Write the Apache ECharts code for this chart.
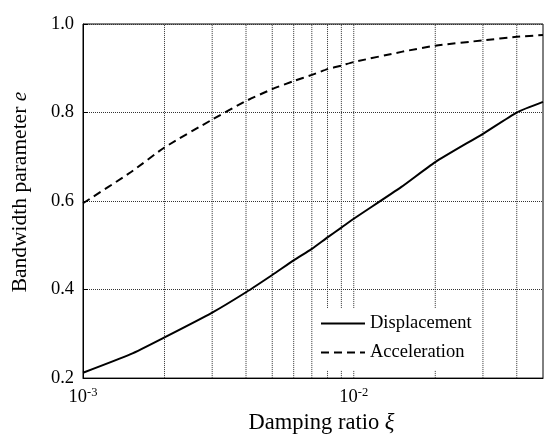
<!DOCTYPE html>
<html>
<head>
<meta charset="utf-8">
<script src="https://cdn.jsdelivr.net/npm/echarts@6/dist/echarts.min.js"></script>
<style>
  html, body { margin: 0; padding: 0; background: #fff; }
  #chart { width: 546px; height: 440px; }
</style>
</head>
<body>
<div id="chart"></div>
<script>
// Damping ratio values (log scale)
const dampingRatio = [0.001, 0.0015, 0.002, 0.003, 0.004, 0.005, 0.006, 0.007, 0.008, 0.009, 0.01, 0.015, 0.02, 0.03, 0.04, 0.05];
// Bandwidth parameter e of the displacement response
const displacement = [0.212, 0.254, 0.292, 0.348, 0.394, 0.433, 0.466, 0.492, 0.518, 0.540, 0.560, 0.632, 0.688, 0.752, 0.800, 0.824];
// Bandwidth parameter e of the acceleration response
const acceleration = [0.595, 0.665, 0.721, 0.784, 0.826, 0.853, 0.871, 0.885, 0.898, 0.906, 0.914, 0.937, 0.951, 0.963, 0.971, 0.975];
// Vertical grid lines at the log-scale subdivisions
const logGrid = [0.002, 0.003, 0.004, 0.005, 0.006, 0.007, 0.008, 0.009, 0.01, 0.02, 0.03, 0.04];
const seriesNames = ['Displacement', 'Acceleration'];

const FONT = "'Liberation Serif', 'Times New Roman', serif";
const GRID_COLOR = '#333';
const Y_MIN = 0.2, Y_MAX = 1.0;
const pairs = (xs, ys) => xs.map((x, i) => [x, ys[i]]);

const chart = echarts.init(document.getElementById('chart'));
chart.setOption({
  animation: false,
  backgroundColor: '#fff',
  textStyle: { fontFamily: FONT, color: '#000' },
  grid: {
    left: 83, right: 2, top: 24, bottom: 56,
    show: true, borderColor: '#000', borderWidth: 1
  },
  legend: {
    orient: 'vertical',
    left: 314, top: 308,
    padding: [6, 8, 8, 6],
    backgroundColor: '#fff',
    itemWidth: 44, itemHeight: 14, itemGap: 10,
    itemStyle: { color: 'transparent', borderColor: 'transparent', borderWidth: 0 },
    textStyle: { fontFamily: FONT, fontSize: 18.5, color: '#000' },
    data: seriesNames
  },
  xAxis: {
    type: 'log', logBase: 10, min: 0.001, max: 0.05,
    name: '{n|Damping ratio }{i|ξ}',
    nameLocation: 'middle', nameGap: 30,
    nameTextStyle: {
      padding: [0, 0, 0, 17],
      rich: {
        n: { fontFamily: FONT, fontSize: 22.5, color: '#000' },
        i: { fontFamily: FONT, fontSize: 22.5, fontStyle: 'italic', color: '#000' }
      }
    },
    axisLine: { lineStyle: { color: '#000' } },
    axisTick: { show: false },
    splitLine: { show: false },
    axisLabel: {
      margin: 8,
      formatter: function (v) {
        const p = Math.log10(v);
        if (Math.abs(p - Math.round(p)) > 1e-6) return '';
        return '{b|10}{s|' + Math.round(p) + '}';
      },
      rich: {
        b: { fontFamily: FONT, fontSize: 18.5, color: '#000', verticalAlign: 'bottom' },
        s: { fontFamily: FONT, fontSize: 12.5, color: '#000', verticalAlign: 'top', padding: [0, 0, 8, 0] }
      }
    }
  },
  yAxis: {
    type: 'value', min: Y_MIN, max: Y_MAX, interval: 0.2,
    name: '{n|Bandwidth parameter }{i|e}',
    nameLocation: 'middle', nameGap: 52, nameRotate: 90,
    nameTextStyle: {
      padding: [0, 0, 0, 18],
      rich: {
        n: { fontFamily: FONT, fontSize: 21.5, color: '#000' },
        i: { fontFamily: FONT, fontSize: 21.5, fontStyle: 'italic', color: '#000' }
      }
    },
    axisLine: { lineStyle: { color: '#000' } },
    axisTick: { show: true, inside: true, length: 5, lineStyle: { color: '#000' } },
    axisLabel: {
      margin: 9, fontSize: 18.5, fontFamily: FONT, color: '#000',
      formatter: v => v.toFixed(1)
    },
    splitLine: { show: true, lineStyle: { color: GRID_COLOR, type: [1, 1], width: 1 } }
  },
  series: [
    {
      // vertical log-decade grid lines
      type: 'custom', silent: true, z: 1,
      data: logGrid,
      encode: { x: 0 },
      renderItem: function (params, api) {
        const v = api.value(0);
        const p0 = api.coord([v, Y_MIN]);
        const p1 = api.coord([v, Y_MAX]);
        return {
          type: 'line',
          shape: { x1: p0[0], y1: p0[1], x2: p1[0], y2: p1[1] },
          style: { stroke: GRID_COLOR, lineWidth: 1, lineDash: [1, 1] }
        };
      }
    },
    {
      name: seriesNames[0], type: 'line', data: pairs(dampingRatio, displacement),
      smooth: 0.2, showSymbol: false, symbol: 'none',
      lineStyle: { color: '#000', width: 2, type: 'solid' },
      itemStyle: { color: '#000' },
      z: 3
    },
    {
      name: seriesNames[1], type: 'line', data: pairs(dampingRatio, acceleration),
      smooth: 0.2, showSymbol: false, symbol: 'none',
      lineStyle: { color: '#000', width: 2, type: [8, 5] },
      itemStyle: { color: '#000' },
      z: 3
    }
  ]
});
</script>
</body>
</html>
